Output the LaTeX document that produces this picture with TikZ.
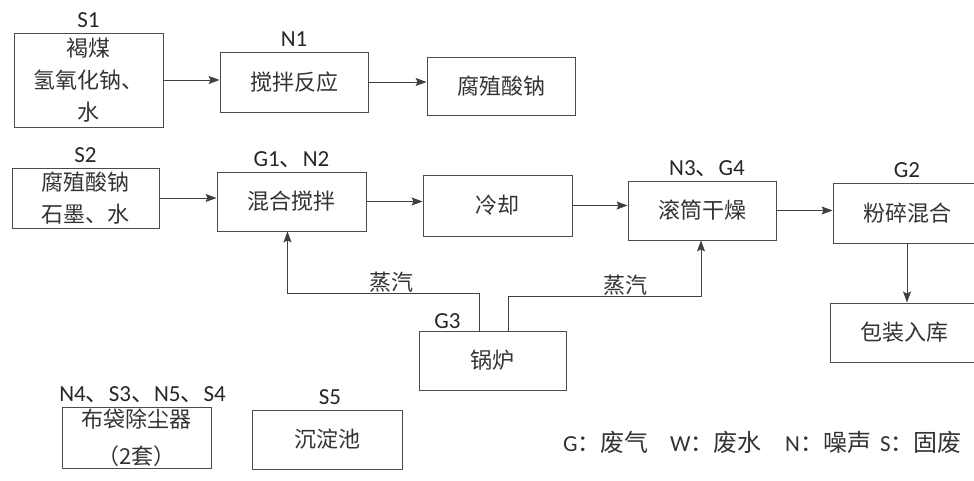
\documentclass[tikz,border=0pt]{standalone}
\usepackage{fontspec}
\usepackage{tikz}
\usetikzlibrary{arrows.meta}
\setmainfont{Carlito}
\newfontfamily\cjk{Noto Sans CJK SC}
\newcommand{\dn}{{\cjk 、}}

\begin{document}
\begin{tikzpicture}[x=1pt, y=1pt,
        box/.style={draw=black!70, line width=0.9pt, text=black!80, align=center,
            minimum width=148pt, minimum height=60pt, inner sep=0pt,
            font={\cjk\fontsize{22}{32}\selectfont}},
        tag/.style={anchor=base, inner sep=0pt, text=black!85,
            font={\fontsize{23}{26}\selectfont}},
        txt/.style={inner sep=0pt, text=black!80, font={\cjk\fontsize{22}{26}\selectfont}},
        key/.style={anchor=base west, inner sep=0pt, text=black!80,
            font={\fontsize{23}{26}\selectfont}},
        flow/.style={draw=black!75, line width=0.9pt, -{Stealth[length=11pt, width=8pt, inset=2pt]}},
        pipe/.style={draw=black!75, line width=0.9pt}]
    \useasboundingbox (0,0) rectangle (974,481);
        % first line
        \node[box, minimum width=149pt, minimum height=94pt] (src1) at (88.5,401) {褐煤\\氢氧化钠、\\水};
        \node[box] (stir) at (294,399) {搅拌反应};
        \node[box, minimum height=58pt] (prod1) at (501,395) {腐殖酸钠};
        % second line
        \node[box, minimum width=147pt] (src2) at (85.5,283) {腐殖酸钠\\石墨、水};
        \node[box, minimum width=149pt, minimum height=59pt] (mix) at (291.5,279.5) {混合搅拌};
        \node[box, minimum width=149pt, minimum height=61pt] (cool) at (497.5,275.5) {冷却};
        \node[box, minimum height=59pt] (dry) at (702,270.5) {滚筒干燥};
        \node[box] (crush) at (907,268) {粉碎混合};
        \node[box, minimum height=59pt] (pack) at (904,148.5) {包装入库};
        \node[box, minimum width=147pt, minimum height=59pt] (boiler) at (492.5,120.5) {锅炉};
        % bottom line
        \node[box, minimum width=149pt, minimum height=61pt] (bag) at (136.5,43.5) {布袋除尘器\\[5pt]（2套）};
        \node[box, minimum width=150pt, minimum height=59pt] (tank) at (327,41.5) {沉淀池};

        % pollutant tags
        \node[tag] (tS1) at ([yshift=5pt]src1.north) {S1};
        \node[tag] (tN1) at ([yshift=5pt]stir.north) {N1};
        \node[tag] (tS2) at ([yshift=5pt]src2.north) {S2};
        \node[tag] (tMix) at ([yshift=5pt]mix.north) {G1\dn N2};
        \node[tag] (tDry) at ([xshift=5pt,yshift=5pt]dry.north) {N3\dn G4};
        \node[tag] (tCrush) at ([yshift=5pt]crush.north) {G2};
        \node[tag] (tBoiler) at ([xshift=29pt,yshift=2pt]boiler.north west) {G3};
        \node[tag] (tBag) at ([xshift=6pt,yshift=5pt]bag.north) {N4\dn S3\dn N5\dn S4};
        \node[tag] (tTank) at ([xshift=3pt,yshift=5pt]tank.north) {S5};

        % process flow
        \draw[flow] (src1.east) -- (src1.east -| stir.west);
        \draw[flow] (stir.east) -- (stir.east -| prod1.west);
        \draw[flow] (src2.east) -- (src2.east -| mix.west);
        \draw[flow] (mix.east) -- (mix.east -| cool.west);
        \draw[flow] (cool.east) -- (cool.east -| dry.west);
        \draw[flow] (dry.east) -- (dry.east -| crush.west);
        \draw[flow] (crush.south) -- (crush.south |- pack.north);

        % steam from the boiler
        \draw[flow] ([xshift=-13pt]boiler.north) -- ++(0,37) -| ([xshift=-4pt]mix.south);
        \draw[flow] ([xshift=16pt]boiler.north) -- ++(0,34) -| ([xshift=-1pt]dry.south);
        \node[txt] (steamL) at (391,199) {蒸汽};
        \node[txt] (steamR) at (625,196) {蒸汽};

        % legend
        \node[key] (legG) at (563,29) {G{\cjk ：\fontsize{24}{26}\selectfont 废气}};
        \node[key] (legW) at (670,29) {W{\cjk ：\fontsize{24}{26}\selectfont 废水}};
        \node[key] (legN) at (785,29) {N{\cjk ：\fontsize{24}{26}\selectfont 噪声}};
        \node[key] (legS) at (880,29) {S{\cjk ：\fontsize{24}{26}\selectfont 固废}};
\end{tikzpicture}
\end{document}
